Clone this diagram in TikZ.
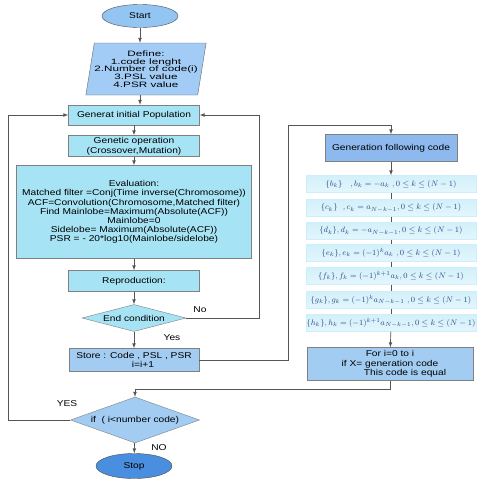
\documentclass[tikz,border=0pt]{standalone}
\usepackage{amsmath}
\usepackage{amssymb}
\usepackage{fontspec}
\setmainfont{Liberation Sans}[FakeStretch=1.2]
\newfontfamily\widefont{Liberation Sans}[FakeStretch=1.5]
\usepackage{tikz}
\usepackage{xcolor}
\usetikzlibrary{arrows}
\usetikzlibrary{shapes.geometric}

\definecolor{termblue}{HTML}{93C5F3}
\definecolor{stopblue}{HTML}{4A8EE0}
\definecolor{ioblue}{HTML}{A2CCF5}
\definecolor{proccyan}{HTML}{A6E3F4}
\definecolor{storeblue}{HTML}{A3CCF2}
\definecolor{genblue}{HTML}{8EB9EE}
\definecolor{formcyan}{HTML}{D2F0FA}
\definecolor{formtext}{HTML}{2B4A8A}
\definecolor{edgegray}{HTML}{555555}

\tikzset{
  term/.style={ellipse,draw=black!70,minimum width=76pt,minimum height=23pt,inner sep=0pt,font=\fontsize{8.5}{10}\selectfont},
  io/.style={trapezium,trapezium left angle=77,trapezium right angle=103,trapezium stretches=true,
    draw=black!60,fill=ioblue,minimum width=117pt,minimum height=52pt,inner sep=0pt,align=center,
    font=\widefont\fontsize{7.8}{7.7}\selectfont},
  proc/.style={rectangle,draw=black!50,fill=proccyan,minimum width=131pt,minimum height=20pt,inner sep=1pt,
    align=center,font=\fontsize{8.5}{9.6}\selectfont},
  blockbox/.style={rectangle,draw=black!50,minimum height=23pt,inner sep=1pt,align=center,
    font=\fontsize{8.5}{9.6}\selectfont},
  cond/.style={diamond,draw=black!50,inner sep=0pt,align=center,font=\fontsize{8.5}{10}\selectfont},
  formula/.style={rectangle,draw=cyan!20,top color=formcyan,bottom color=formcyan!60,minimum width=170pt,
    minimum height=17pt,inner sep=0pt,text=formtext,font=\fontsize{8}{9}\selectfont},
  line/.style={draw=edgegray,line width=0.7pt},
  arrow/.style={line,-latex},
  lbl/.style={font=\fontsize{8.5}{10}\selectfont}
}

\begin{document}
\begin{tikzpicture}[x=1pt,y=-1pt]
\useasboundingbox (0,0) rectangle (480,480);

% main column
\node[term,fill=termblue] (start) at (140,16) {Start};
\node[io] (def) at (146,69) {Define:\\1.code lenght\\2.Number of code(i)\\3.PSL value\\4.PSR value};
\node[proc] (init) at (134,115) {Generat initial Population};
\node[proc,minimum height=21pt] (gen) at (134,146) {Genetic operation\\(Crossover,Mutation)};
\node[proc,minimum width=235pt,minimum height=93pt,font=\fontsize{8.5}{9.2}\selectfont] (eval) at (134,212)
  {Evaluation:\\Matched filter =Conj(Time inverse(Chromosome))\\ACF=Convolution(Chromosome,Matched filter)\\
   Find Mainlobe=Maximum(Absolute(ACF))\\Mainlobe=0\\Sidelobe= Maximum(Absolute(ACF))\\
   PSR = - 20*log10(Mainlobe/sidelobe)};
\node[proc,minimum height=21pt] (repro) at (134,281) {Reproduction:};
\node[cond,fill=proccyan,aspect=3.85,minimum width=104pt,minimum height=27pt] (endc) at (134,318) {End condition};
\node[blockbox,fill=storeblue,minimum width=130pt] (store) at (134,360) {Store : Code , PSL , PSR\\\hspace*{18pt}i=i+1};
\node[cond,fill=storeblue,aspect=2.8,minimum width=129pt,minimum height=46pt] (ifn) at (135,420) {if \ ( i<number code)};
\node[term,fill=stopblue,minimum height=25pt] (stop) at (134,466) {Stop};

% right column
\node[blockbox,fill=genblue,minimum width=132pt,minimum height=27pt] (genc) at (391,148) {Generation following code};
\node[formula] (fb) at (391,184) {$\{b_k\}\quad ,b_k=-a_k\ ,0\le k\le (N-1)$};
\node[formula] (fc) at (391,208) {$\{c_k\}\ \ ,c_k=a_{N-k-1},0\le k\le (N-1)$};
\node[formula] (fd) at (391,231) {$\{d_k\},d_k=-a_{N-k-1},0\le k\le (N-1)$};
\node[formula] (fe) at (391,253) {$\{e_k\},e_k=(-1)^k a_k\ ,0\le k\le (N-1)$};
\node[formula] (ff) at (391,276) {$\{f_k\},f_k=(-1)^{k+1}a_k,0\le k\le (N-1)$};
\node[formula] (fg) at (391,300) {$\{g_k\},g_k=(-1)^k a_{N-k-1}\ ,0\le k\le (N-1)$};
\node[formula] (fh) at (391,323) {$\{h_k\},h_k=(-1)^{k+1}a_{N-k-1},0\le k\le (N-1)$};
\node[blockbox,fill=storeblue,minimum width=166pt,minimum height=33pt] (for) at (390,364)
  {For i=0 to i\\if X= generation code\\\hspace*{30pt}This code is equal};

% labels
\node[lbl] (lno) at (200,310) {No};
\node[lbl] (lyes) at (172,338) {Yes};
\node[lbl] (lYES) at (67,404) {YES};
\node[lbl] (lNO) at (159,448) {NO};

% bend points
\coordinate (rloop) at (259,318);
\coordinate (jump) at (288,125);
\coordinate (back) at (390,389);
\coordinate (lloop) at (8,420);

% connectors
\draw[arrow] (start) -- (start |- def.north);
\draw[arrow] (start |- def.south) -- (start |- init.north);
\draw[arrow] (init) -- (gen);
\draw[arrow] (gen) -- (eval);
\draw[arrow] (eval) -- (repro);
\draw[arrow] (repro) -- (endc);
\draw[arrow] (endc) -- (store);
\draw[arrow] (endc.east) -- (rloop) |- (init.east);
\draw[arrow] (store.east) -| (jump) -| (genc.north);
\draw[arrow] (genc) -- (fb);
\foreach \a/\b in {fb/fc,fc/fd,fd/fe,fe/ff,ff/fg,fg/fh}{
\draw[line] (\a) -- (\b);
}
\draw[arrow] (fh) -- (for);
\draw[arrow] (for.south) -- (back) -| (ifn.north);
\draw[arrow] (ifn.west) -- (lloop) |- (init.west);
\draw[arrow] (ifn) -- (stop);
\end{tikzpicture}
\end{document}
